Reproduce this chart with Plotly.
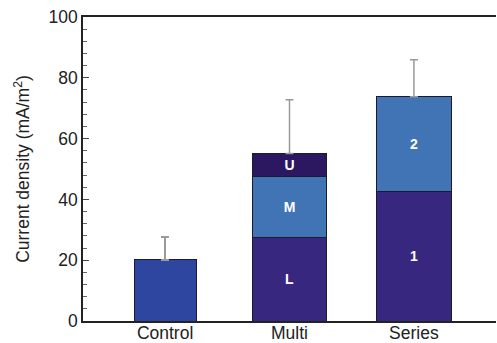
import plotly.graph_objects as go

# Current density per configuration (mA/m^2)
categories = ["Control", "Multi", "Series"]

control_value = [20.1]
control_err = [7.5]

lower_x = ["Multi", "Series"]
lower_values = [27.6, 42.5]
lower_labels = ["L", "1"]

middle_x = ["Multi", "Series"]
middle_values = [19.9, 31.3]
middle_labels = ["M", "2"]

upper_x = ["Multi"]
upper_values = [7.6]
upper_labels = ["U"]

stack_x = ["Multi", "Series"]
stack_err = [17.7, 12.1]

y_ticks = [0, 20, 40, 60, 80, 100]

FONT = "Liberation Sans, Arial, Helvetica, sans-serif"
OUTLINE = dict(color="#1c1a2c", width=1)
LABEL_FONT = dict(family=FONT, size=14, color="white", weight="bold")
ERR_STYLE = dict(type="data", symmetric=False, color="#9a9a9a", thickness=1.5, width=4)

fig = go.Figure()

fig.add_trace(go.Bar(
    x=categories[:1], y=control_value, width=0.5,
    marker=dict(color="#2e46a0", line=OUTLINE),
    error_y=dict(array=control_err, arrayminus=[0], **ERR_STYLE),
    showlegend=False, hoverinfo="skip",
))

for xs, vals, labels, color in [
    (lower_x, lower_values, lower_labels, "#37277f"),
    (middle_x, middle_values, middle_labels, "#4174b5"),
    (upper_x, upper_values, upper_labels, "#2c1860"),
]:
    fig.add_trace(go.Bar(
        x=xs, y=vals, width=0.6, text=labels,
        textposition="inside", insidetextanchor="middle",
        textangle=0, textfont=LABEL_FONT, constraintext="none",
        marker=dict(color=color, line=OUTLINE),
        showlegend=False, hoverinfo="skip",
    ))

# Upward error bars on top of the stacked totals
totals = [sum(v) for v in zip(lower_values, middle_values)]
totals[0] += upper_values[0]
fig.add_trace(go.Scatter(
    x=stack_x, y=totals, mode="markers",
    marker=dict(size=1, opacity=0),
    error_y=dict(array=stack_err, arrayminus=[0, 0], **ERR_STYLE),
    showlegend=False, hoverinfo="skip",
))

fig.update_layout(
    barmode="stack",
    width=497, height=343,
    margin=dict(l=83, r=1, t=17, b=22),
    paper_bgcolor="white", plot_bgcolor="white",
    font=dict(family=FONT, size=17.5, color="#222222"),
)

fig.update_xaxes(
    type="category", categoryorder="array", categoryarray=categories,
    range=[-0.66, 2.66], automargin=False, ticklabelstandoff=-5,
    showline=True, linecolor="#222222", linewidth=1.5, mirror=True,
    ticks="", showgrid=False, zeroline=False,
)

fig.update_yaxes(
    range=[0, 100], tickvals=y_ticks, automargin=False,
    showline=True, linecolor="#222222", linewidth=1.5,
    ticks="inside", ticklen=6, tickcolor="#444444", tickwidth=1,
    minor=dict(dtick=4, ticks="inside", ticklen=4, tickcolor="#666666", tickwidth=1),
    showgrid=False, zeroline=False,
    title=dict(text="Current density (mA/m<sup>2</sup>)", standoff=14,
               font=dict(family=FONT, size=17.5, color="#222222")),
)

fig.write_html("out.html")
